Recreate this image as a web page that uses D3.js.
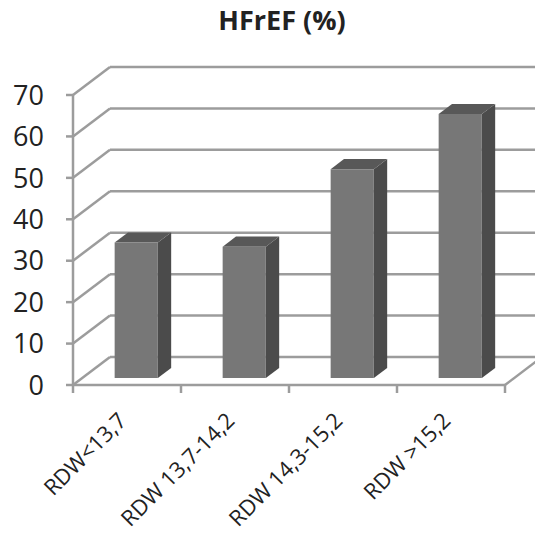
<!DOCTYPE html>
<html>
<head>
<meta charset="utf-8">
<title>HFrEF (%)</title>
<script src="https://d3js.org/d3.v7.min.js"></script>
<style>
	body { margin: 0; background: #fff; }
	svg text { font-family: "Open Sans", Arial, sans-serif; fill: #222; }
</style>
</head>
<body>
<div id="chart"></div>
<script>
var categories = ['RDW<13,7', 'RDW 13,7-14,2', 'RDW 14,3-15,2', 'RDW >15,2'];
var values = [32.7, 31.7, 50.4, 63.7];
var yTicks = [0, 10, 20, 30, 40, 50, 60, 70];

var W = 535, H = 535;
var depthX = 37, depthY = -28;   // offset of the back wall
var barD0 = 0.25, barD1 = 0.61;  // bar depth range (fraction of depth)

var svg = d3.select('#chart').append('svg')
	.attr('width', W).attr('height', H);

var x = d3.scaleBand().domain(categories).range([73, 505]);
var y = d3.scaleLinear().domain([0, 70]).range([385, 95]);

function proj(px, py, d) {
	return [px + d * depthX, py + d * depthY];
}

var grid = svg.append('g')
	.attr('stroke', '#9c9c9c').attr('stroke-width', 2.5).attr('fill', 'none');

// side wall diagonals and back wall lines
yTicks.forEach(function(v) {
	var a = [73, y(v)], b = proj(73, y(v), 1);
	grid.append('line').attr('x1', a[0]).attr('y1', a[1]).attr('x2', b[0]).attr('y2', b[1]);
	grid.append('line').attr('x1', b[0]).attr('y1', b[1]).attr('x2', W + 10).attr('y2', b[1]);
});

// floor: front edge and right diagonal
var fr = proj(505, y(0), 1);
grid.append('line').attr('x1', 73).attr('y1', y(0)).attr('x2', 505).attr('y2', y(0));
grid.append('line').attr('x1', 505).attr('y1', y(0)).attr('x2', fr[0]).attr('y2', fr[1]);

// value axis
grid.append('line').attr('x1', 73).attr('y1', y(0)).attr('x2', 73).attr('y2', y(70));
yTicks.forEach(function(v) {
	grid.append('line').attr('x1', 66).attr('y1', y(v)).attr('x2', 73).attr('y2', y(v));
});

// category ticks
var edges = categories.map(function(c) { return x(c); }).concat([505]);
edges.forEach(function(e) {
	grid.append('line').attr('x1', e).attr('y1', y(0)).attr('x2', e).attr('y2', y(0) + 8);
});

// bars
var bw = x.bandwidth() * 0.4;
var bars = svg.append('g');
categories.forEach(function(c, i) {
	var x0 = x(c) + (x.bandwidth() - bw) / 2;
	var x1 = x0 + bw;
	var top = y(values[i]), bot = y(0);
	var fa = proj(x0, top, barD0), fb = proj(x1, top, barD0),
		fc = proj(x1, bot, barD0), fd = proj(x0, bot, barD0);
	var ba = proj(x0, top, barD1), bb = proj(x1, top, barD1),
		bc = proj(x1, bot, barD1);
	bars.append('polygon')
		.attr('points', [fb, bb, bc, fc].join(' '))
		.attr('fill', '#4b4b4b');
	bars.append('polygon')
		.attr('points', [fa, ba, bb, fb].join(' '))
		.attr('fill', '#585858');
	bars.append('polygon')
		.attr('points', [fa, fb, fc, fd].join(' '))
		.attr('fill', '#777777');
});

// y labels
svg.append('g').selectAll('text').data(yTicks).enter().append('text')
	.attr('x', 44).attr('y', function(d) { return y(d); })
	.attr('dy', '0.36em')
	.attr('text-anchor', 'end')
	.style('font-size', '27px')
	.text(function(d) { return d; });

// category labels
svg.append('g').selectAll('text').data(categories).enter().append('text')
	.attr('text-anchor', 'end')
	.attr('transform', function(d) {
		var cx = x(d) + x.bandwidth() / 2 + 1;
		return 'translate(' + cx + ',' + 422 + ') rotate(-45)';
	})
	.style('font-size', '22px')
	.text(function(d) { return d; });

// title
svg.append('text')
	.attr('x', 282).attr('y', 30)
	.attr('text-anchor', 'middle')
	.style('font-size', '27px').style('font-weight', 'bold')
	.text('HFrEF (%)');
</script>
</body>
</html>
